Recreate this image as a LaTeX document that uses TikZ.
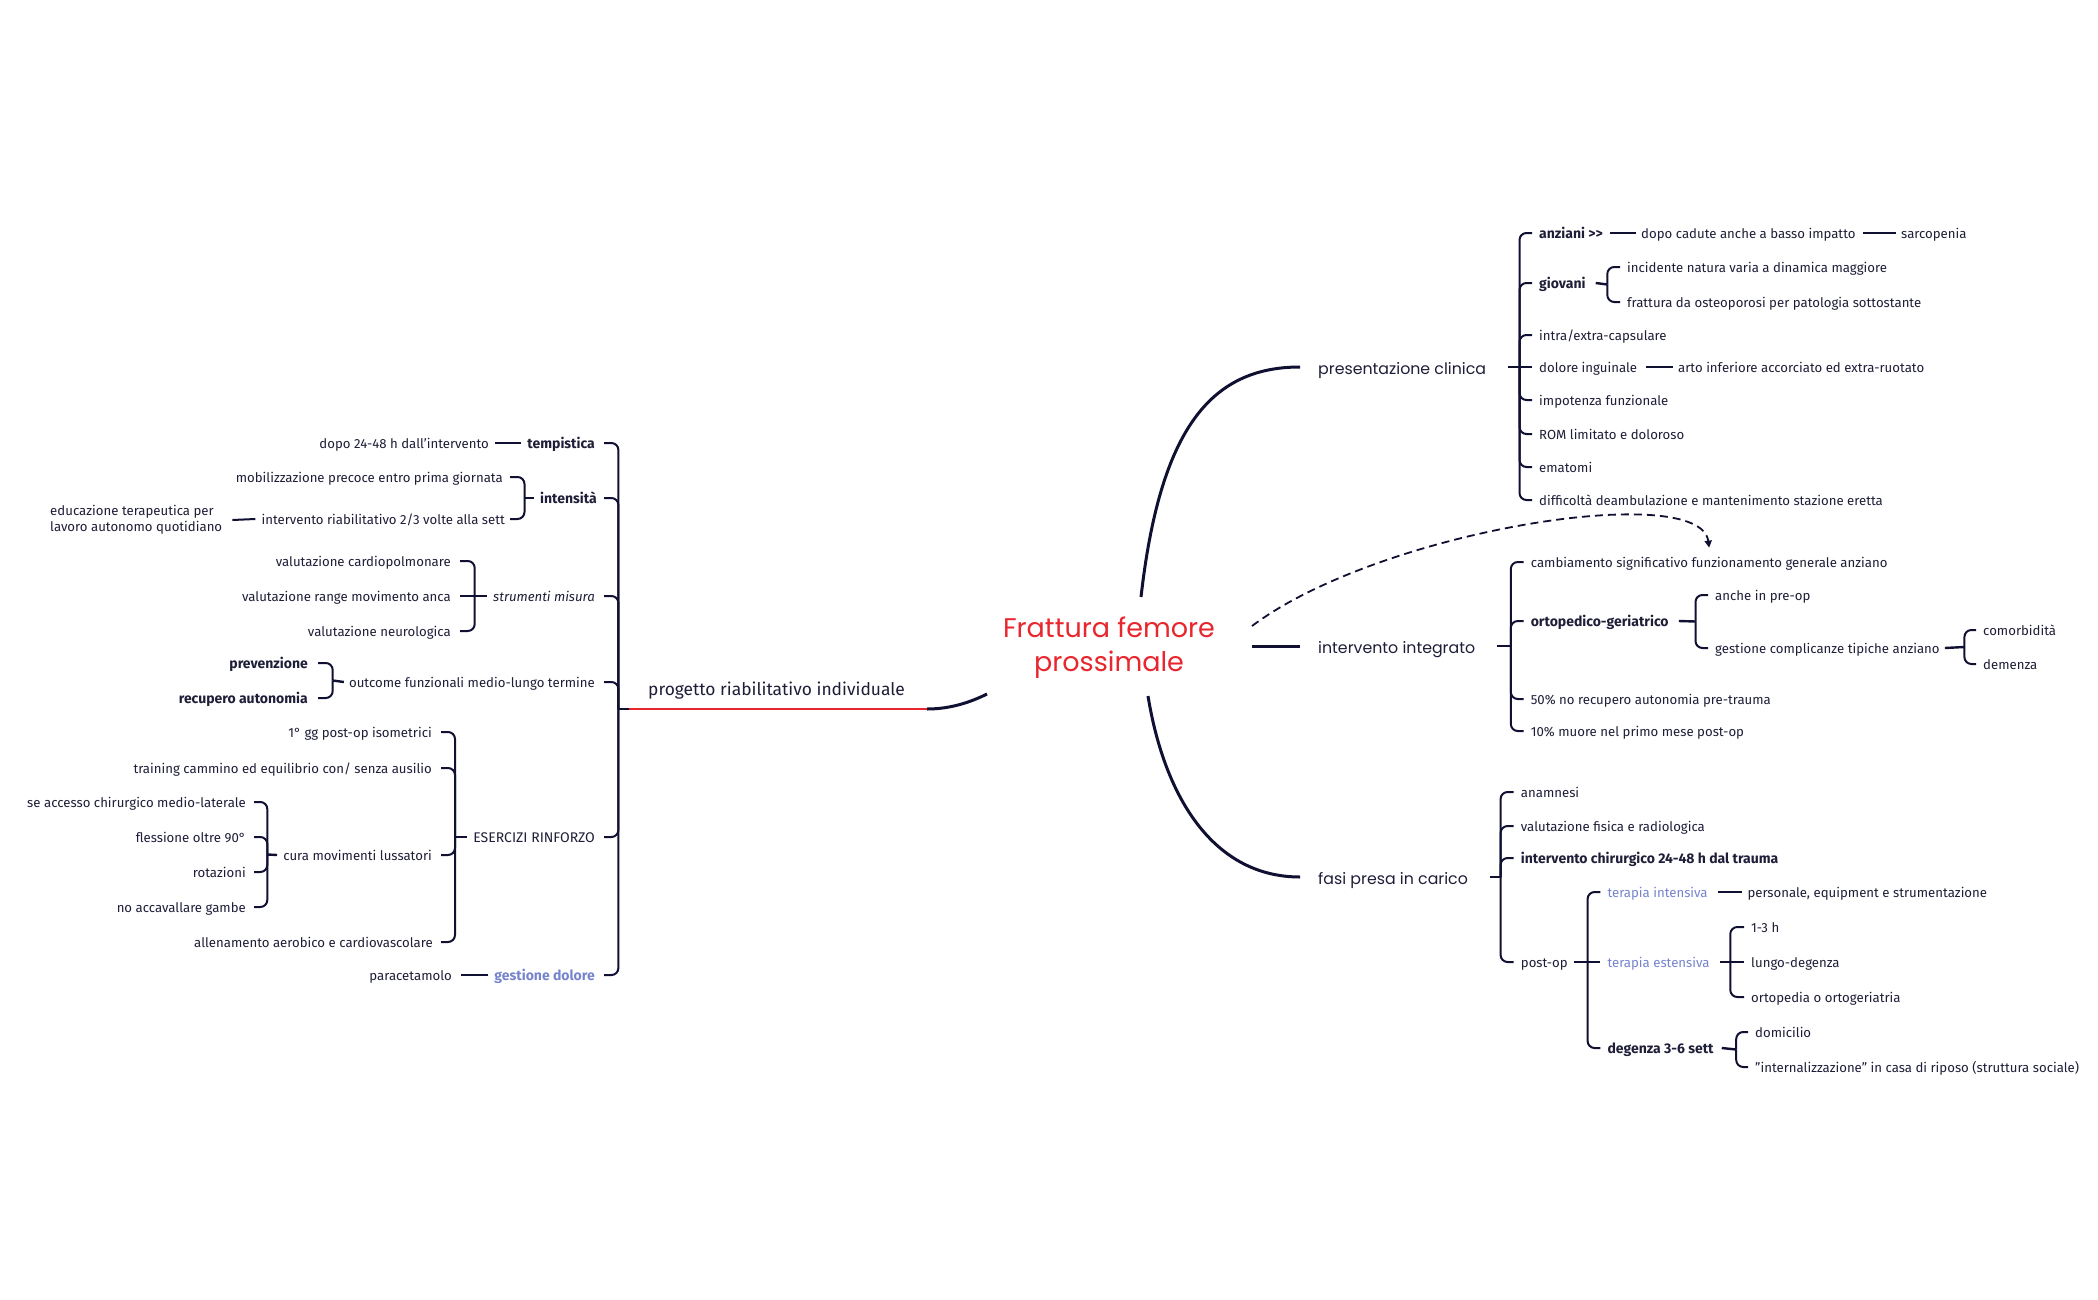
\documentclass[tikz,border=0pt]{standalone}
\usepackage{fontspec}
\setmainfont{Fira Sans}
\newfontfamily\topfont{Poppins}
\usetikzlibrary{calc,arrows.meta}
\definecolor{ink}{RGB}{16,16,50}
\definecolor{txt}{RGB}{30,30,56}
\definecolor{rootred}{RGB}{232,38,45}
\definecolor{softblue}{RGB}{118,132,206}
\tikzset{
  leaf/.style={font=\fontsize{13.2}{15}\selectfont, text=txt, inner sep=0pt, text height=10.3pt, text depth=0pt},
  leafb/.style={leaf, font=\fontsize{14}{16}\selectfont\bfseries},
  leafi/.style={leaf, font=\fontsize{13.2}{15}\selectfont\itshape},
  leafcaps/.style={leaf, font=\fontsize{14}{16}\selectfont},
  leafblue/.style={leaf, text=softblue},
  leafblueb/.style={leafb, text=softblue},
  blockleaf/.style={font=\fontsize{13.2}{16}\selectfont, text=txt, inner sep=0pt, align=left},
  R/.style={anchor=west},
  L/.style={anchor=east},
  topic/.style={font=\topfont\fontsize{15.8}{18}\selectfont, text=txt, inner xsep=18pt, inner ysep=0pt, text height=14pt, text depth=0pt, anchor=west},
  rootnode/.style={font=\topfont\fontsize{27}{34}\selectfont, text=rootred, align=center, inner sep=0pt},
  brline/.style={draw=ink, line width=2pt, rounded corners=7pt},
  hubline/.style={draw=ink, line width=2.4pt},
  link/.style={draw=ink, line width=2pt},
  mainline/.style={draw=ink, line width=3pt},
  redline/.style={draw=rootred, line width=2pt},
  dasharrow/.style={draw=ink, line width=1.8pt, dash pattern=on 8pt off 5pt, -{Triangle[length=7pt,width=7pt]}},
}
\newcommand\mmbr[2]{\draw[brline] let \p1=(#1), \p2=(#2) in (\p1) -- (\x1,\y2) -- (\p2);}
\begin{document}
\begin{tikzpicture}[x=1pt,y=-1pt]
\useasboundingbox (0,0) rectangle (2098,1300);
\fill[white] (0,0) rectangle (2098,1300);

% ---------- root ----------
\node[rootnode] (root) at (1109,648) {Frattura femore\\prossimale};
\coordinate (rA) at (1141,597);
\coordinate (rB) at (1252,646);
\coordinate (rD) at (1252,626);
\coordinate (rC) at (1148,696);
\coordinate (rE) at (987,694);

% ---------- main topics ----------
\node[topic] (pc) at (1300,367) {presentazione clinica};
\node[topic] (ii) at (1300,646) {intervento integrato};
\node[topic] (fp) at (1300,877) {fasi presa in carico};
\node[font=\fontsize{17.4}{20}\selectfont, text=txt, inner sep=0pt, anchor=mid west] (pr) at (648,693) {progetto riabilitativo individuale};
\coordinate (prL) at (629,709);
\coordinate (prR) at (927,709);
\coordinate (plh) at (618.4,709);

\draw[mainline] (rA) .. controls (1160,430) and (1210,367) .. (pc.west);
\draw[mainline] (rB) -- (ii.west);
\draw[mainline] (rC) .. controls (1165,800) and (1215,877) .. (fp.west);
\draw[mainline] (rE) .. controls (965,705) and (945,709) .. (prR);
\draw[redline] (prL) -- (prR);
\draw[hubline] (plh) -- (prL);

% ---------- presentazione clinica ----------
\coordinate (pcb) at (1519.5,367);
\node[leafb,R] (p1) at (1539,233) {anziani >{}>};
\node[leafb,R] (p2) at (1539,283) {giovani};
\node[leaf,R] (p3) at (1539,335) {intra/extra-capsulare};
\node[leaf,R] (p4) at (1539,367) {dolore inguinale};
\node[leaf,R] (p5) at (1539,400) {impotenza funzionale};
\node[leaf,R] (p6) at (1539,434) {ROM limitato e doloroso};
\node[leaf,R] (p7) at (1539,467) {ematomi};
\node[leaf,R] (p8) at (1539,500) {difficoltà deambulazione e mantenimento stazione eretta};
\draw[hubline] ([xshift=4pt]pc.east) -- (pcb);
\mmbr{pcb}{[xshift=-7pt]p1.west}
\mmbr{pcb}{[xshift=-7pt]p2.west}
\mmbr{pcb}{[xshift=-7pt]p3.west}
\draw[brline] (pcb) -- ([xshift=-7pt]p4.west);
\mmbr{pcb}{[xshift=-7pt]p5.west}
\mmbr{pcb}{[xshift=-7pt]p6.west}
\mmbr{pcb}{[xshift=-7pt]p7.west}
\mmbr{pcb}{[xshift=-7pt]p8.west}

\node[leaf,R] (p1a) at (1641,233) {dopo cadute anche a basso impatto};
\node[leaf,R] (p1b) at (1901,233) {sarcopenia};
\draw[link] ([xshift=7pt]p1.east) -- ([xshift=-5pt]p1a.west);
\draw[link] ([xshift=7pt]p1a.east) -- ([xshift=-5pt]p1b.west);

\coordinate (p2h) at (1607.3,284.5);
\node[leaf,R] (p2a) at (1627,267) {incidente natura varia a dinamica maggiore};
\node[leaf,R] (p2b) at (1627,302) {frattura da osteoporosi per patologia sottostante};
\draw[hubline] ([xshift=10pt]p2.east) -- (p2h);
\mmbr{p2h}{[xshift=-7pt]p2a.west}
\mmbr{p2h}{[xshift=-7pt]p2b.west}

\node[leaf,R] (p4a) at (1678,367) {arto inferiore accorciato ed extra-ruotato};
\draw[link] ([xshift=9pt]p4.east) -- ([xshift=-5pt]p4a.west);

% ---------- intervento integrato ----------
\coordinate (iib) at (1510.8,646);
\node[leaf,R] (i1) at (1530.6,562) {cambiamento significativo funzionamento generale anziano};
\node[leafb,R] (i2) at (1530.6,621) {ortopedico-geriatrico};
\node[leaf,R] (i3) at (1530.6,699) {50\% no recupero autonomia pre-trauma};
\node[leaf,R] (i4) at (1530.6,731) {10\% muore nel primo mese post-op};
\draw[hubline] ([xshift=4pt]ii.east) -- (iib);
\mmbr{iib}{[xshift=-7pt]i1.west}
\mmbr{iib}{[xshift=-7pt]i2.west}
\mmbr{iib}{[xshift=-7pt]i3.west}
\mmbr{iib}{[xshift=-7pt]i4.west}

\coordinate (i2h) at (1695.5,621.5);
\node[leaf,R] (i2a) at (1715,595) {anche in pre-op};
\node[leaf,R] (i2b) at (1715,648) {gestione complicanze tipiche anziano};
\draw[hubline] ([xshift=10pt]i2.east) -- (i2h);
\mmbr{i2h}{[xshift=-7pt]i2a.west}
\mmbr{i2h}{[xshift=-7pt]i2b.west}

\coordinate (i2bh) at (1964.4,647);
\node[leaf,R] (i2b1) at (1983,630) {comorbidità};
\node[leaf,R] (i2b2) at (1983,664) {demenza};
\draw[hubline] ([xshift=5pt]i2b.east) -- (i2bh);
\mmbr{i2bh}{[xshift=-7pt]i2b1.west}
\mmbr{i2bh}{[xshift=-7pt]i2b2.west}

\draw[dasharrow] (rD) .. controls (1380,530) and (1700,480) .. ([yshift=9pt]i1.north);

% ---------- fasi presa in carico ----------
\coordinate (fpb) at (1500.6,877);
\node[leaf,R] (f1) at (1520.7,792) {anamnesi};
\node[leaf,R] (f2) at (1520.7,826) {valutazione fisica e radiologica};
\node[leafb,R] (f3) at (1520.7,858) {intervento chirurgico 24-48 h dal trauma};
\node[leaf,R] (f4) at (1520.7,962) {post-op};
\draw[hubline] ([xshift=4pt]fp.east) -- (fpb);
\mmbr{fpb}{[xshift=-7pt]f1.west}
\mmbr{fpb}{[xshift=-7pt]f2.west}
\mmbr{fpb}{[xshift=-7pt]f3.west}
\mmbr{fpb}{[xshift=-7pt]f4.west}

\coordinate (f4h) at (1587.6,962);
\node[leafblue,R] (f4a) at (1607.3,892) {terapia intensiva};
\node[leafblue,R] (f4b) at (1607.3,962) {terapia estensiva};
\node[leafb,R] (f4c) at (1607.3,1048) {degenza 3-6 sett};
\draw[hubline] ([xshift=6pt]f4.east) -- (f4h);
\mmbr{f4h}{[xshift=-7pt]f4a.west}
\draw[brline] (f4h) -- ([xshift=-7pt]f4b.west);
\mmbr{f4h}{[xshift=-7pt]f4c.west}

\node[leaf,R] (f4a1) at (1747.3,892) {personale, equipment e strumentazione};
\draw[link] ([xshift=10pt]f4a.east) -- ([xshift=-5pt]f4a1.west);

\coordinate (f4bh) at (1730.3,962);
\node[leaf,R] (q1) at (1751,927) {1-3 h};
\node[leaf,R] (q2) at (1751,962) {lungo-degenza};
\node[leaf,R] (q3) at (1751,997) {ortopedia o ortogeriatria};
\draw[hubline] ([xshift=10pt]f4b.east) -- (f4bh);
\mmbr{f4bh}{[xshift=-7pt]q1.west}
\draw[brline] (f4bh) -- ([xshift=-7pt]q2.west);
\mmbr{f4bh}{[xshift=-7pt]q3.west}

\coordinate (f4ch) at (1736.2,1049.5);
\node[leaf,R] (d1) at (1755,1032) {domicilio};
\node[leaf,R] (d2) at (1755,1067) {\symbol{34}internalizzazione\symbol{34} in casa di riposo (struttura sociale)};
\draw[hubline] ([xshift=8pt]f4c.east) -- (f4ch);
\mmbr{f4ch}{[xshift=-7pt]d1.west}
\mmbr{f4ch}{[xshift=-7pt]d2.west}

% ---------- progetto riabilitativo individuale ----------
\node[leafb,L] (l1) at (595,443) {tempistica};
\node[leafb,L] (l2) at (597,498) {intensità};
\node[leafi,L] (l3) at (595,596) {strumenti misura};
\node[leaf,L] (l4) at (595,682) {outcome funzionali medio-lungo termine};
\node[leafcaps,L] (l5) at (595,837) {ESERCIZI RINFORZO};
\node[leafblueb,L] (l6) at (595,975) {gestione dolore};
\mmbr{plh}{[xshift=9pt]l1.east}
\mmbr{plh}{[xshift=7pt]l2.east}
\mmbr{plh}{[xshift=9pt]l3.east}
\mmbr{plh}{[xshift=9pt]l4.east}
\mmbr{plh}{[xshift=9pt]l5.east}
\mmbr{plh}{[xshift=9pt]l6.east}

\node[leaf,L] (l1a) at (489,443) {dopo 24-48 h dall’intervento};
\draw[link] ([xshift=-6pt]l1.west) -- ([xshift=6pt]l1a.east);

\coordinate (l2h) at (524.5,498);
\node[leaf,L] (l2a) at (503,477) {mobilizzazione precoce entro prima giornata};
\node[leaf,L] (l2b) at (505,519) {intervento riabilitativo 2/3 volte alla sett};
\draw[hubline] ([xshift=-6pt]l2.west) -- (l2h);
\mmbr{l2h}{[xshift=7pt]l2a.east}
\mmbr{l2h}{[xshift=5pt]l2b.east}
\node[blockleaf, anchor=east] (l2b1) at (222.4,520) {educazione terapeutica per\\lavoro autonomo quotidiano};
\draw[link] ([xshift=-6pt]l2b.west) -- ([xshift=10pt]l2b1.east);

\coordinate (l3h) at (474.7,596);
\node[leaf,L] (l3a) at (451,561) {valutazione cardiopolmonare};
\node[leaf,L] (l3b) at (451,596) {valutazione range movimento anca};
\node[leaf,L] (l3c) at (451,631) {valutazione neurologica};
\draw[hubline] ([xshift=-6pt]l3.west) -- (l3h);
\mmbr{l3h}{[xshift=9pt]l3a.east}
\draw[brline] (l3h) -- ([xshift=9pt]l3b.east);
\mmbr{l3h}{[xshift=9pt]l3c.east}

\coordinate (l4h) at (332.7,680.5);
\node[leafb,L] (l4a) at (308,663) {prevenzione};
\node[leafb,L] (l4b) at (308,698) {recupero autonomia};
\draw[hubline] ([xshift=-5pt]l4.west) -- (l4h);
\mmbr{l4h}{[xshift=10pt]l4a.east}
\mmbr{l4h}{[xshift=10pt]l4b.east}

\coordinate (l5h) at (455,837);
\node[leaf,L] (l5a) at (432,732) {1° gg post-op isometrici};
\node[leaf,L] (l5b) at (432,768) {training cammino ed equilibrio con/ senza ausilio};
\node[leaf,L] (l5c) at (432,855) {cura movimenti lussatori};
\node[leaf,L] (l5d) at (433,942) {allenamento aerobico e cardiovascolare};
\draw[hubline] ([xshift=-6pt]l5.west) -- (l5h);
\mmbr{l5h}{[xshift=9pt]l5a.east}
\mmbr{l5h}{[xshift=9pt]l5b.east}
\mmbr{l5h}{[xshift=9pt]l5c.east}
\mmbr{l5h}{[xshift=8pt]l5d.east}

\coordinate (l5ch) at (267.3,854.5);
\node[leaf,L] (c1) at (246,802) {se accesso chirurgico medio-laterale};
\node[leaf,L] (c2) at (246,837) {flessione oltre 90°};
\node[leaf,L] (c3) at (246,872) {rotazioni};
\node[leaf,L] (c4) at (246,907) {no accavallare gambe};
\draw[hubline] ([xshift=-6pt]l5c.west) -- (l5ch);
\mmbr{l5ch}{[xshift=8pt]c1.east}
\mmbr{l5ch}{[xshift=8pt]c2.east}
\mmbr{l5ch}{[xshift=8pt]c3.east}
\mmbr{l5ch}{[xshift=8pt]c4.east}

\node[leaf,L] (l6a) at (452,975) {paracetamolo};
\draw[link] ([xshift=-6pt]l6.west) -- ([xshift=9pt]l6a.east);
\end{tikzpicture}
\end{document}
